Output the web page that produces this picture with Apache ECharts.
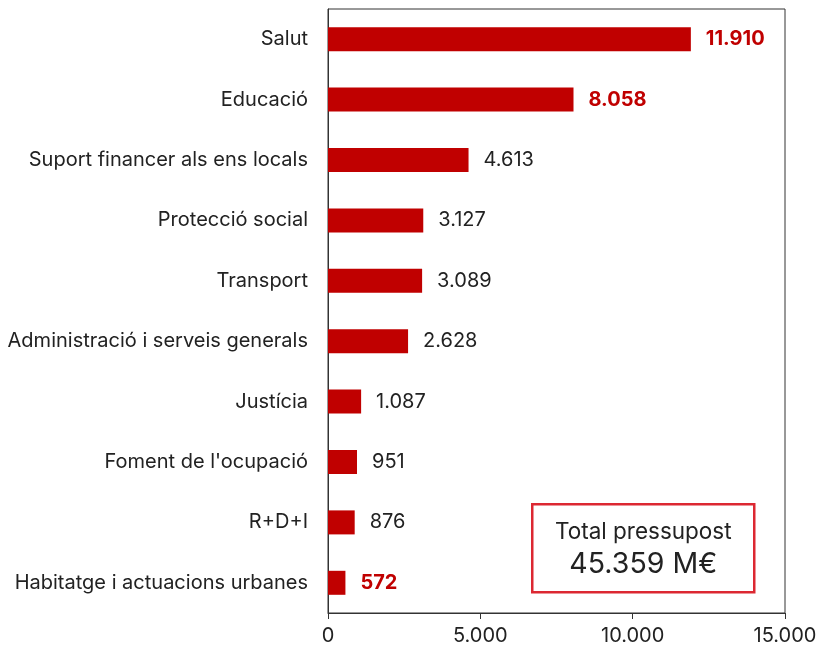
<!DOCTYPE html>
<html>
<head>
<meta charset="utf-8">
<script src="https://cdn.jsdelivr.net/npm/echarts@6/dist/echarts.min.js"></script>
<style>
  html, body { margin: 0; padding: 0; background: #fff; }
  #chart { width: 821px; height: 652px; }
</style>
</head>
<body>
<div id="chart"></div>
<script>
const categories = [
  "Salut",
  "Educació",
  "Suport financer als ens locals",
  "Protecció social",
  "Transport",
  "Administració i serveis generals",
  "Justícia",
  "Foment de l'ocupació",
  "R+D+I",
  "Habitatge i actuacions urbanes"
];
const values = [11910, 8058, 4613, 3127, 3089, 2628, 1087, 951, 876, 572];
// categories whose label is highlighted in bold red
const highlighted = ["Salut", "Educació", "Habitatge i actuacions urbanes"];
const totalLabel = "Total pressupost";
const totalValue = "45.359 M€";

const FONT = "Inter";
const RED = "#c00000";

function fmt(v) {
  return String(v).replace(/\B(?=(\d{3})+(?!\d))/g, ".");
}

const chart = echarts.init(document.getElementById("chart"));

const option = {
  animation: false,
  textStyle: { fontFamily: FONT },
  grid: {
    left: 328,
    right: 36,
    top: 9,
    bottom: 39,
    show: true,
    borderColor: "#333",
    borderWidth: 1
  },
  xAxis: {
    type: "value",
    min: 0,
    max: 15000,
    interval: 5000,
    splitLine: { show: false },
    axisLine: { show: true, lineStyle: { color: "#333" } },
    axisTick: { show: true, length: 6, lineStyle: { color: "#333" } },
    axisLabel: {
      color: "#222",
      fontSize: 20,
      fontFamily: FONT,
      margin: 13,
      formatter: fmt
    }
  },
  yAxis: {
    type: "category",
    inverse: true,
    data: categories,
    axisLine: { show: true, lineStyle: { color: "#333" } },
    axisTick: { show: false },
    axisLabel: { color: "#222", fontSize: 20, fontFamily: FONT, margin: 20 }
  },
  series: [
    {
      type: "bar",
      barWidth: 24,
      itemStyle: { color: RED },
      data: values.map((v, i) => {
        const hl = highlighted.includes(categories[i]);
        return {
          value: v,
          label: {
            show: true,
            position: "right",
            distance: 15,
            fontSize: 20,
            fontFamily: FONT,
            color: hl ? RED : "#222",
            fontWeight: hl ? "bold" : "normal",
            formatter: p => fmt(p.value)
          }
        };
      })
    }
  ],
  graphic: [
    {
      type: "group",
      left: 531,
      top: 503,
      children: [
        {
          type: "rect",
          shape: { x: 0, y: 0, width: 222, height: 88 },
          style: { fill: "#fff", stroke: "#dc2832", lineWidth: 2.5 }
        },
        {
          type: "text",
          x: 111,
          y: 28,
          style: {
            text: totalLabel,
            fontSize: 22.5,
            fontFamily: FONT,
            fill: "#222",
            align: "center",
            verticalAlign: "middle"
          }
        },
        {
          type: "text",
          x: 111,
          y: 60,
          style: {
            text: totalValue,
            fontSize: 28.5,
            fontFamily: FONT,
            fill: "#222",
            align: "center",
            verticalAlign: "middle"
          }
        }
      ]
    }
  ]
};

chart.setOption(option);
</script>
</body>
</html>
